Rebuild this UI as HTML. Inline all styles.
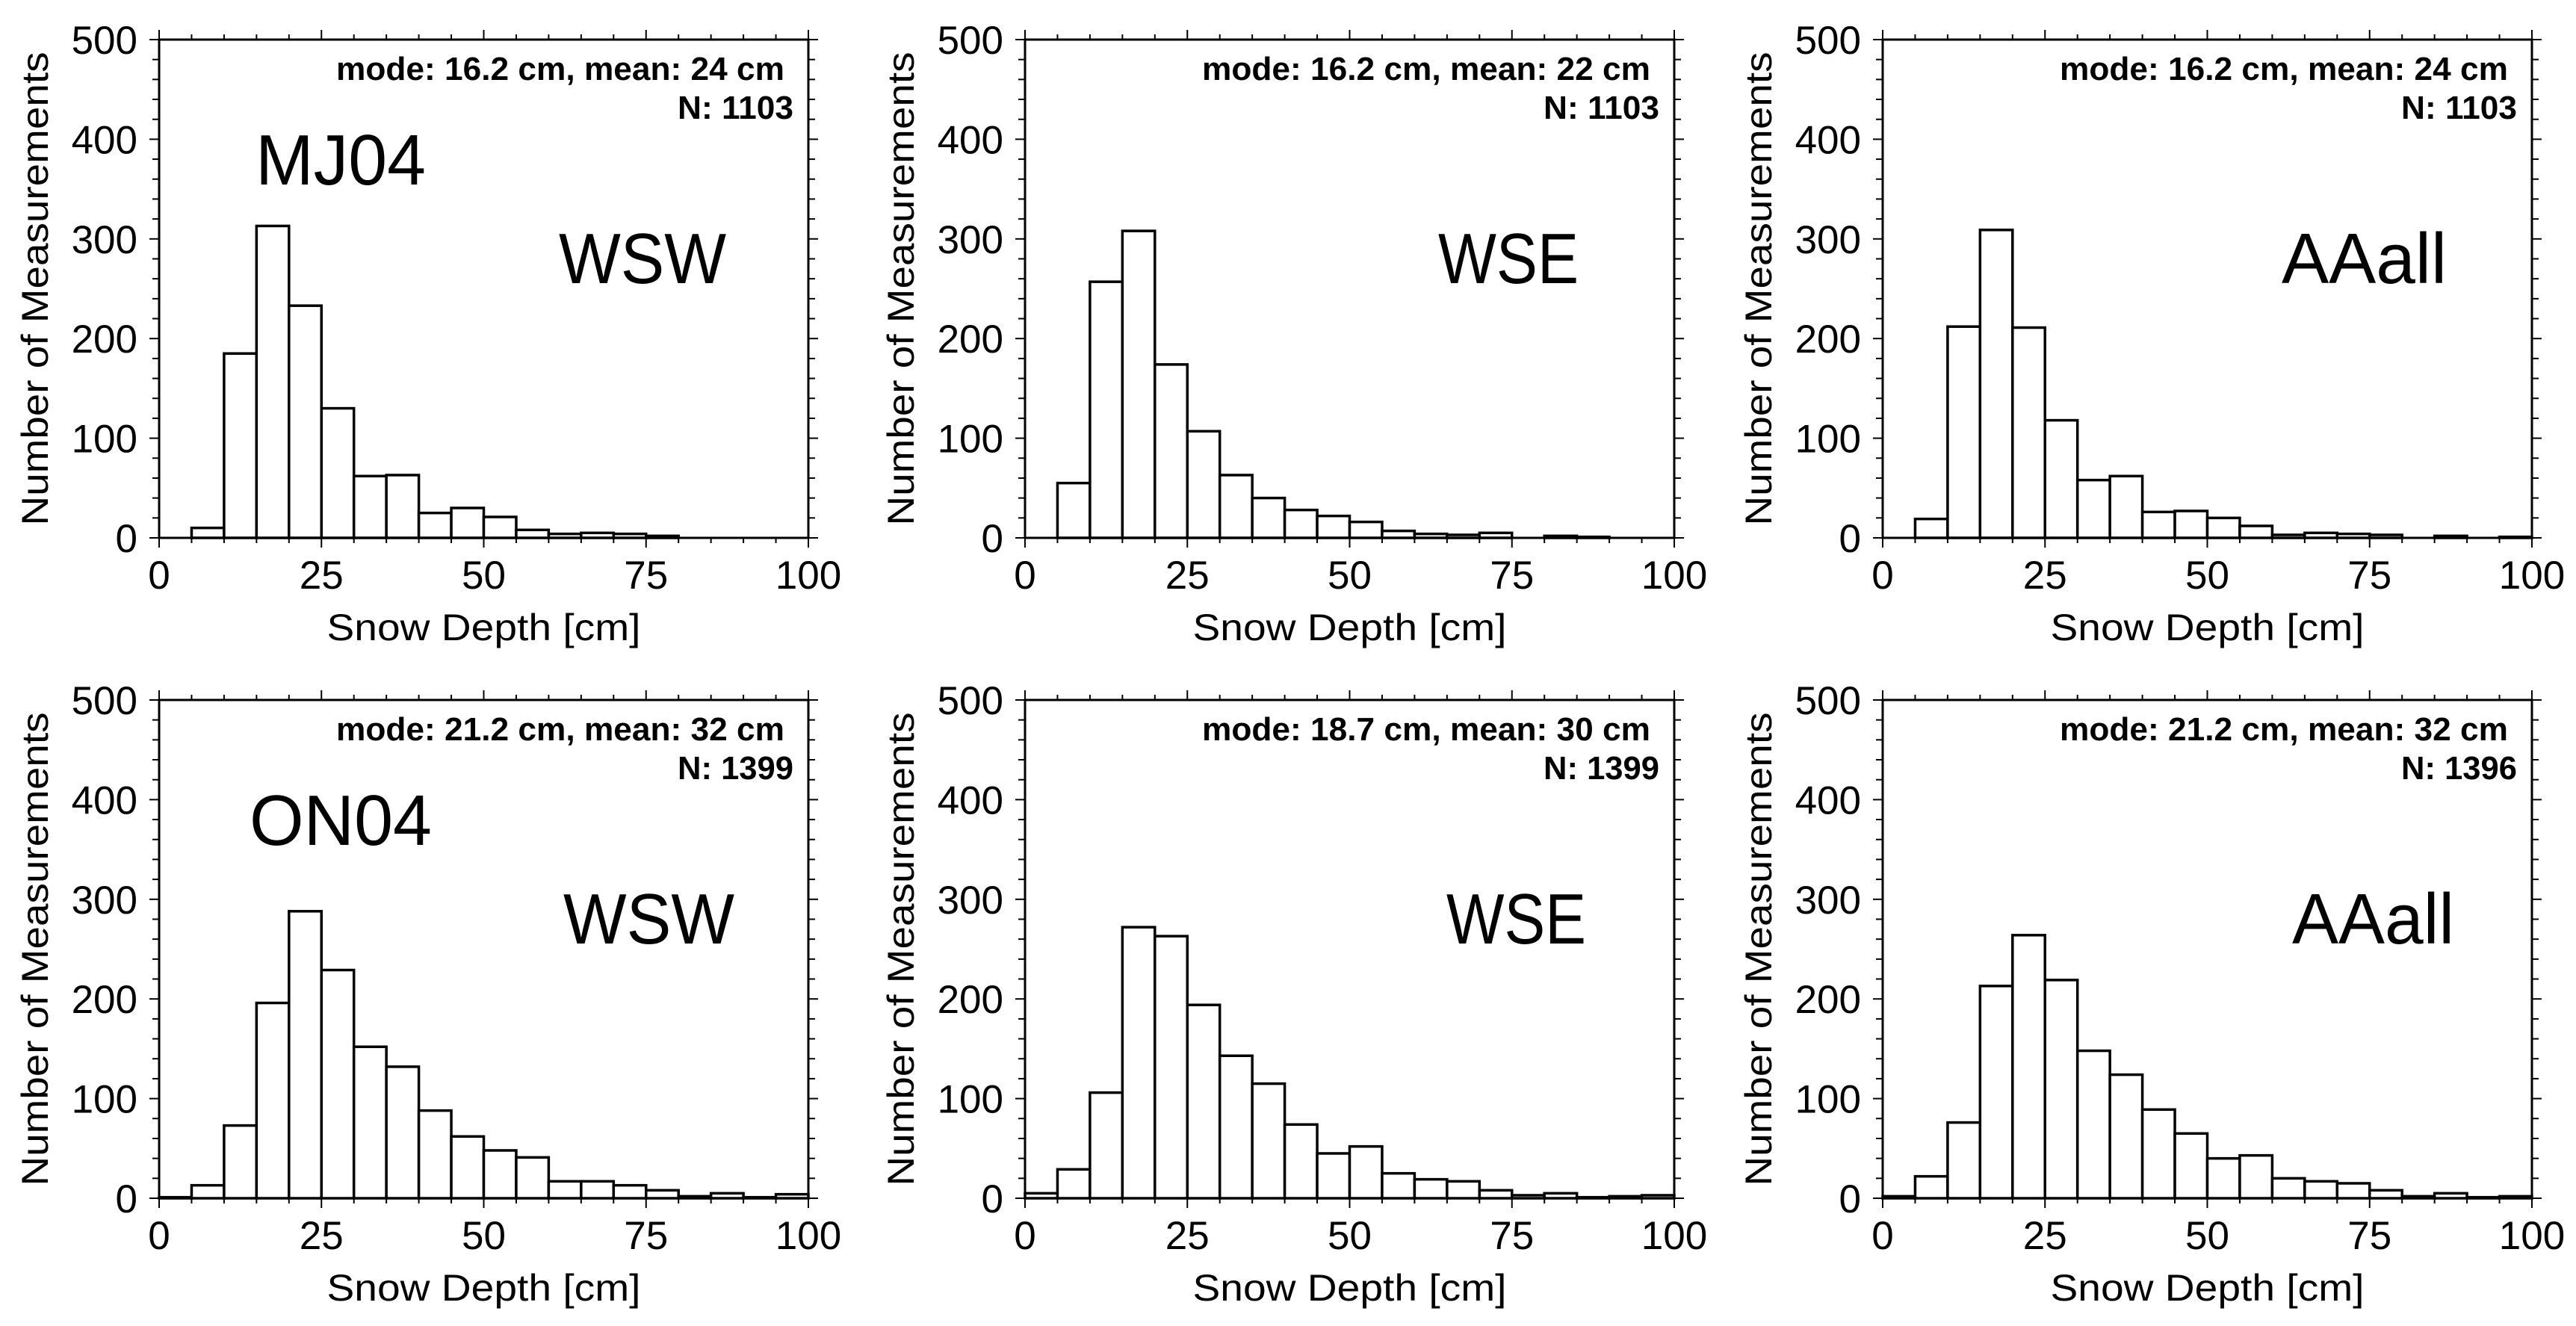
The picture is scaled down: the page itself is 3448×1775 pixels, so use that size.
<!DOCTYPE html>
<html><head><meta charset="utf-8">
<style>
html,body{margin:0;padding:0;background:#fff;}
svg{display:block;}
text{font-family:"Liberation Sans",sans-serif;fill:#000;}
</style></head>
<body>
<svg id="fig" width="3448" height="1775" viewBox="0 0 3448 1775" xmlns="http://www.w3.org/2000/svg"></svg>
<script>
const binWidth = 5;
const xTicks = [0, 25, 50, 75, 100];
const yTicks = [0, 100, 200, 300, 400, 500];
const countsMJ04WSW = [0, 10, 185, 313, 233, 130, 62, 63, 25, 30, 21, 8, 4, 5, 4, 2, 0, 0, 0];
const countsMJ04WSE = [0, 55, 257, 308, 174, 107, 63, 40, 28, 22, 16, 7, 4, 3, 5, 0, 2, 1, 0, 0];
const countsMJ04AAall = [0, 19, 212, 309, 211, 118, 58, 62, 26, 27, 20, 12, 3, 5, 4, 3, 0, 2, 0, 1];
const countsON04WSW = [1, 13, 73, 196, 288, 229, 152, 132, 88, 62, 48, 41, 17, 17, 13, 8, 2, 5, 1, 4];
const countsON04WSE = [5, 29, 106, 272, 263, 194, 143, 115, 74, 45, 52, 25, 19, 17, 8, 3, 5, 1, 2, 3];
const countsON04AAall = [2, 22, 76, 213, 264, 219, 148, 124, 89, 65, 40, 43, 20, 17, 15, 8, 2, 5, 1, 2];
const modeTexts = ["mode: 16.2 cm, mean: 24 cm","mode: 16.2 cm, mean: 22 cm","mode: 16.2 cm, mean: 24 cm",
                   "mode: 21.2 cm, mean: 32 cm","mode: 18.7 cm, mean: 30 cm","mode: 21.2 cm, mean: 32 cm"];
const nTexts = ["N: 1103","N: 1103","N: 1103","N: 1399","N: 1399","N: 1396"];
const regionLabels = ["WSW","WSE","AAall","WSW","WSE","AAall"];
const periodLabels = ["MJ04","","","ON04","",""];

const svg = document.getElementById('fig');
const NS = "http://www.w3.org/2000/svg";
function mk(tag, attrs, parent){
  const e = document.createElementNS(NS, tag);
  for (const k in attrs) e.setAttribute(k, attrs[k]);
  (parent||svg).appendChild(e);
  return e;
}
const allCounts = [countsMJ04WSW, countsMJ04WSE, countsMJ04AAall, countsON04WSW, countsON04WSE, countsON04AAall];
const lefts = [213, 1372, 2520];
const tops = [53, 937];
const PW = 869, PH = 667;
const regionX = [[748,972],[1925,2113],[3054,3275],[754,983],[1936,2123],[3068,3285]];

for (let p = 0; p < 6; p++) {
  const L = lefts[p % 3], T = tops[Math.floor(p / 3)], R = L + PW, B = T + PH;
  const xs = v => L + v / 100 * PW;
  const ys = v => B - v / 500 * PH;
  const g = mk('g', {});
  
  

  const counts = allCounts[p];
  for (let i = 0; i < counts.length; i++) {
    const x0 = xs(i * binWidth), x1 = xs((i + 1) * binWidth);
    const r = mk('rect', {x: x0, y: ys(counts[i]), width: x1 - x0, height: B - ys(counts[i]), fill: '#fff', stroke: '#000', 'stroke-width': 3.5}, g);
    
    
  }
  const fr = mk('rect', {x: L, y: T, width: PW, height: PH, fill: 'none', stroke: '#000', 'stroke-width': 3}, g);
  
  

  for (let v = 0; v <= 100; v += 5) {
    const major = v % 25 === 0;
    const len = major ? 13 : 7;
    const x = xs(v);
    mk('line', {x1: x, y1: T, x2: x, y2: T - len, stroke: '#000', 'stroke-width': 2}, g);
    mk('line', {x1: x, y1: B, x2: x, y2: B + len, stroke: '#000', 'stroke-width': 2}, g);
  }
  for (let v = 0; v <= 500; v += 20) {
    const major = v % 100 === 0;
    const len = major ? 13 : 9;
    const y = ys(v);
    mk('line', {x1: L, y1: y, x2: L - len, y2: y, stroke: '#000', 'stroke-width': 2}, g);
    mk('line', {x1: R, y1: y, x2: R + len, y2: y, stroke: '#000', 'stroke-width': 2}, g);
  }
  for (const v of yTicks) {
    const t = mk('text', {x: L - 29, y: ys(v) + 19, 'font-size': 53, 'text-anchor': 'end'}, g);
    t.textContent = v;
    
    
  }
  for (const v of xTicks) {
    const t = mk('text', {x: xs(v), y: B + 68, 'font-size': 53, 'text-anchor': 'middle'}, g);
    t.textContent = v;
    
    
  }
  const xt = mk('text', {x: L + PW / 2, y: B + 137, 'font-size': 50, 'text-anchor': 'middle', textLength: 420, lengthAdjust: 'spacingAndGlyphs'}, g);
  xt.textContent = 'Snow Depth [cm]';
  
  

  const yt = mk('text', {x: 0, y: 0, 'font-size': 50, 'text-anchor': 'middle', textLength: 634, lengthAdjust: 'spacingAndGlyphs', transform: 'translate(' + (L - 149) + ',' + (T + PH / 2) + ') rotate(-90)'}, g);
  yt.textContent = 'Number of Measurements';
  
  

  const mt = mk('text', {x: R - 32, y: T + 54, 'font-size': 44, 'font-weight': 'bold', 'text-anchor': 'end', textLength: 600, lengthAdjust: 'spacingAndGlyphs'}, g);
  mt.textContent = modeTexts[p];
  
  
  const nt = mk('text', {x: R - 20, y: T + 106, 'font-size': 44, 'font-weight': 'bold', 'text-anchor': 'end', textLength: 155, lengthAdjust: 'spacingAndGlyphs'}, g);
  nt.textContent = nTexts[p];
  
  

  const rx = regionX[p];
  const rl = mk('text', {x: rx[0], y: T + 326, 'font-size': 96, textLength: rx[1] - rx[0], lengthAdjust: 'spacingAndGlyphs'}, g);
  rl.textContent = regionLabels[p];
  
  

  if (periodLabels[p]) {
    const px = p === 0 ? [342, 570] : [334, 578];
    const pl = mk('text', {x: px[0], y: T + 194, 'font-size': 96, textLength: px[1] - px[0], lengthAdjust: 'spacingAndGlyphs'}, g);
    pl.textContent = periodLabels[p];
    
    
  }
}
</script>
</body></html>
